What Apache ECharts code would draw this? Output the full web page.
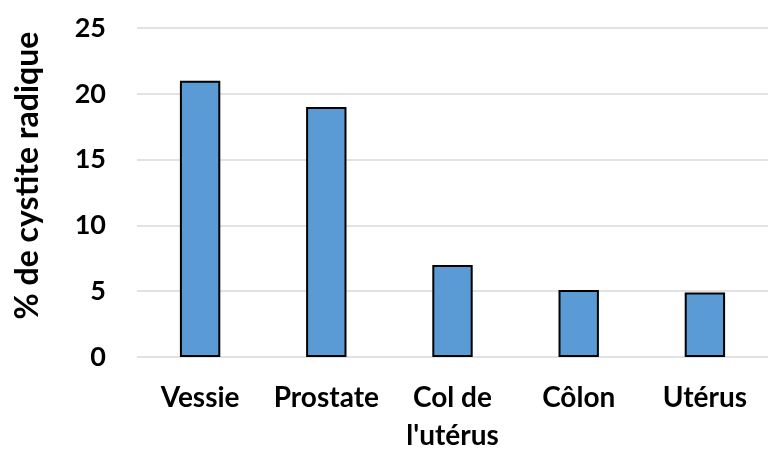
<!DOCTYPE html>
<html>
<head>
<meta charset="utf-8">
<script src="https://cdn.jsdelivr.net/npm/echarts@6/dist/echarts.min.js"></script>
<style>
  html, body { margin: 0; padding: 0; background: #fff; }
  #chart { width: 769px; height: 449px; }
</style>
</head>
<body>
<div id="chart"></div>
<script>
  var categories = ['Vessie', 'Prostate', 'Col de\nl\'utérus', 'Côlon', 'Utérus'];
  var values = [21, 19, 7, 5.1, 4.9];
  var yTicks = [0, 5, 10, 15, 20, 25];
  var yName = '% de cystite radique';

  var chart = echarts.init(document.getElementById('chart'));
  chart.setOption({
    animation: false,
    textStyle: { fontFamily: 'Lato', fontWeight: 'bold' },
    grid: { left: 137, right: 1, top: 28, bottom: 92, containLabel: false, outerBoundsMode: 'none' },
    xAxis: {
      type: 'category',
      data: categories,
      axisLine: { show: false },
      axisTick: { show: false },
      axisLabel: {
        interval: 0,
        color: '#000', fontSize: 28, fontWeight: 'bold',
        fontFamily: 'Lato', margin: 22, lineHeight: 38
      }
    },
    yAxis: {
      type: 'value',
      min: yTicks[0],
      max: yTicks[yTicks.length - 1],
      interval: 5,
      name: yName,
      nameLocation: 'middle',
      nameGap: 93,
      nameTextStyle: {
        color: '#000', fontSize: 32, fontWeight: 'bold', fontFamily: 'Lato',
        padding: [0, 0, 0, 34]
      },
      axisLine: { show: false },
      axisTick: { show: false },
      axisLabel: { color: '#000', fontSize: 27, fontWeight: 'bold', fontFamily: 'Lato', margin: 31 },
      splitLine: { lineStyle: { color: '#d9d9d9', width: 1.5 } }
    },
    series: [{
      type: 'bar',
      data: values,
      barWidth: '32%',
      itemStyle: { color: '#5b9bd5', borderColor: '#000', borderWidth: 2 }
    }]
  });
</script>
</body>
</html>
